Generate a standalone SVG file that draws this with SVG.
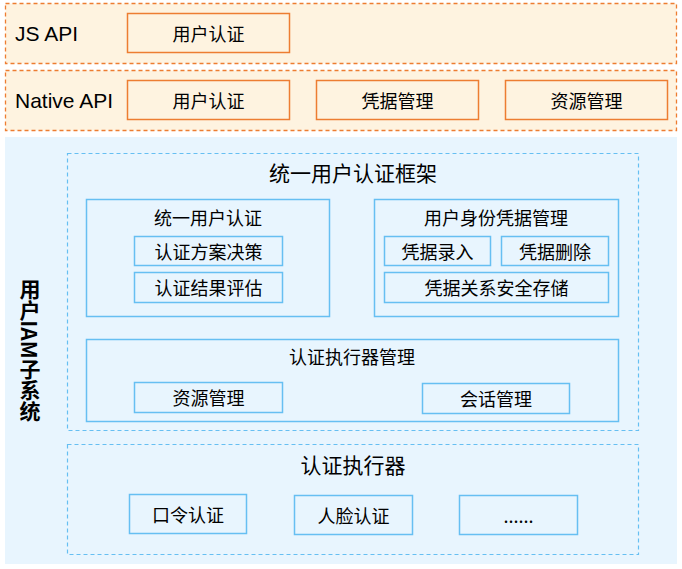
<svg xmlns="http://www.w3.org/2000/svg" width="682" height="569" viewBox="0 0 682 569">
<style>
.obar{fill:#FEF3E0;stroke:#ED7D31;stroke-width:1.3;stroke-dasharray:4 3}
.obox{fill:none;stroke:#ED7D31;stroke-width:1.5}
.bdash{fill:none;stroke:#66BFF2;stroke-width:1.2;stroke-dasharray:4 3}
.bbox{fill:none;stroke:#66BFF2;stroke-width:1.5}
text{font-family:"Noto Sans CJK SC","Liberation Sans",sans-serif;fill:#000;text-anchor:middle;dominant-baseline:central}
.lat{font-family:"Liberation Sans","Noto Sans CJK SC",sans-serif;font-size:21px;text-anchor:start}
.t18{font-size:18px}
.t19{font-size:21px}
</style>
<rect x="0" y="0" width="682" height="569" fill="#FFFFFF"/>
<g id="js-api">
<rect class="obar" x="5.5" y="3.5" width="671" height="60"/>
<text class="lat" x="15" y="33">JS API</text>
</g>
<g id="js-user-auth">
<rect class="obox" x="127.5" y="13.5" width="162" height="39"/>
<text class="t18" x="208.5" y="33">用户认证</text>
</g>
<g id="native-api">
<rect class="obar" x="5.5" y="70.5" width="671" height="60"/>
<text class="lat" x="15" y="100">Native API</text>
</g>
<g id="native-user-auth">
<rect class="obox" x="127.5" y="80.5" width="162" height="39"/>
<text class="t18" x="208.5" y="100">用户认证</text>
</g>
<g id="native-cred">
<rect class="obox" x="316.5" y="80.5" width="162" height="39"/>
<text class="t18" x="397.5" y="100">凭据管理</text>
</g>
<g id="native-res">
<rect class="obox" x="505.5" y="80.5" width="162" height="39"/>
<text class="t18" x="586.5" y="100">资源管理</text>
</g>
<g id="iam">
<rect x="5" y="137" width="672" height="427" fill="#E8F5FE"/>
<text x="30" y="350" style="writing-mode:vertical-rl;font-weight:bold;font-size:21px">用户IAM子系统</text>
</g>
<g id="framework">
<rect class="bdash" x="67.5" y="153.5" width="571" height="277"/>
<text class="t19" x="353" y="172">统一用户认证框架</text>
</g>
<g id="unified-auth">
<rect class="bbox" x="86.5" y="199.5" width="243" height="117"/>
<text class="t18" x="208" y="217">统一用户认证</text>
</g>
<g id="auth-decision">
<rect class="bbox" x="134.5" y="236.5" width="148" height="29"/>
<text class="t18" x="208.5" y="251">认证方案决策</text>
</g>
<g id="auth-eval">
<rect class="bbox" x="134.5" y="272.5" width="148" height="30"/>
<text class="t18" x="208.5" y="287">认证结果评估</text>
</g>
<g id="cred-mgmt">
<rect class="bbox" x="374.5" y="199.5" width="244" height="117"/>
<text class="t18" x="496" y="217">用户身份凭据管理</text>
</g>
<g id="cred-enroll">
<rect class="bbox" x="384.5" y="236.5" width="106" height="29"/>
<text class="t18" x="437.5" y="251">凭据录入</text>
</g>
<g id="cred-delete">
<rect class="bbox" x="501.5" y="236.5" width="107" height="29"/>
<text class="t18" x="555" y="251">凭据删除</text>
</g>
<g id="cred-store">
<rect class="bbox" x="384.5" y="272.5" width="224" height="30"/>
<text class="t18" x="496.5" y="287">凭据关系安全存储</text>
</g>
<g id="executor-mgmt">
<rect class="bbox" x="86.5" y="339.5" width="532" height="82"/>
<text class="t18" x="352" y="356">认证执行器管理</text>
</g>
<g id="res-mgmt">
<rect class="bbox" x="134.5" y="382.5" width="148" height="30"/>
<text class="t18" x="208.5" y="397">资源管理</text>
</g>
<g id="session-mgmt">
<rect class="bbox" x="422.5" y="383.5" width="147" height="30"/>
<text class="t18" x="496" y="398">会话管理</text>
</g>
<g id="executors">
<rect class="bdash" x="67.5" y="444.5" width="571" height="110"/>
<text class="t19" x="353" y="464">认证执行器</text>
</g>
<g id="pin-auth">
<rect class="bbox" x="129.5" y="494.5" width="117" height="39"/>
<text class="t18" x="188" y="514">口令认证</text>
</g>
<g id="face-auth">
<rect class="bbox" x="294.5" y="495.5" width="118" height="39"/>
<text class="t18" x="353.5" y="515">人脸认证</text>
</g>
<g id="more">
<rect class="bbox" x="459.5" y="495.5" width="118" height="39"/>
<text class="t18" x="518.5" y="515">......</text>
</g>
<g id="connectors"></g>
</svg>
